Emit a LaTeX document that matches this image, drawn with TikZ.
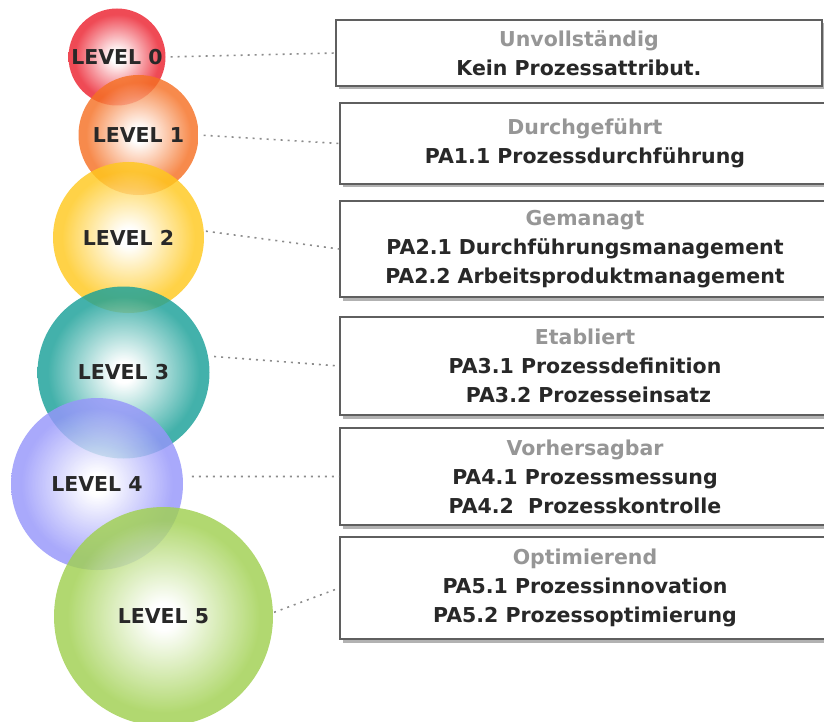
\documentclass[tikz,border=0pt]{standalone}
\usepackage{fontspec}
\setmainfont{DejaVu Sans}
\usetikzlibrary{shadows}
\definecolor{cred}{RGB}{236,34,48}
\definecolor{corange}{RGB}{245,112,36}
\definecolor{cyellow}{RGB}{255,200,30}
\definecolor{cteal}{RGB}{26,160,152}
\definecolor{clav}{RGB}{150,150,250}
\definecolor{cgreen}{RGB}{160,208,80}
\definecolor{titlegray}{RGB}{150,150,150}
\definecolor{txt}{RGB}{40,40,40}
\definecolor{boxline}{RGB}{95,95,95}
\definecolor{dotline}{RGB}{140,140,140}
\makeatletter
\pgfdeclareradialshading[tikz@radial@inner,tikz@radial@outer]{glow}{\pgforigin}{color(0bp)=(tikz@radial@inner); color(3bp)=(tikz@radial@inner); color(22bp)=(tikz@radial@outer); color(50bp)=(tikz@radial@outer)}
\makeatother
\tikzset{
  ball/.style n args={2}{circle, inner sep=0pt, minimum size=#1, fill opacity=0.82, text opacity=1,
    text=txt, font=\fontsize{20.5}{24}\selectfont\bfseries,
    inner color=white, outer color=#2, shading=glow},
  infobox/.style={rectangle, draw=boxline, line width=1.5pt, fill=white, align=center,
    text=txt, font=\fontsize{20.5}{29}\selectfont\bfseries,
    drop shadow={shadow xshift=3pt, shadow yshift=-3.5pt, fill=black!30, opacity=1}},
  leader/.style={draw=dotline, line width=1.6pt, dash pattern=on 2pt off 5pt}
}
\newcommand{\ttl}[1]{{\color{titlegray}#1}}
\begin{document}
\begin{tikzpicture}[x=1pt,y=-1pt]
\useasboundingbox (0,0) rectangle (824,722);
\clip (0,0) rectangle (824,722);
% circles
\node[ball={97pt}{cred}] (c0) at (117,57) {LEVEL 0};
\node[ball={120pt}{corange}] (c1) at (138.5,135) {LEVEL 1};
\node[ball={151pt}{cyellow}] (c2) at (128.5,237.5) {LEVEL 2};
\node[ball={172pt}{cteal}] (c3) at (123.5,372.5) {LEVEL 3};
\node[ball={172pt}{clav}] (c4) at (97,484) {LEVEL 4};
\node[ball={219pt}{cgreen}] (c5) at (163.5,616.5) {LEVEL 5};
% boxes
\node[infobox, minimum width=486pt, minimum height=66pt] (b0) at (579,53)
  {\ttl{Unvollständig}\\Kein Prozessattribut.};
\node[infobox, minimum width=490pt, minimum height=81pt] (b1) at (585,143.5)
  {\ttl{Durchgeführt}\\PA1.1 Prozessdurchführung};
\node[infobox, minimum width=490pt, minimum height=96pt] (b2) at (585,249)
  {\ttl{Gemanagt}\\PA2.1 Durchführungsmanagement\\PA2.2 Arbeitsproduktmanagement};
\node[infobox, minimum width=490pt, minimum height=98pt] (b3) at (585,366)
  {\ttl{Etabliert}\\PA3.1 Prozessdefinition\\\ PA3.2 Prozesseinsatz};
\node[infobox, minimum width=490pt, minimum height=97pt] (b4) at (585,476.5)
  {\ttl{Vorhersagbar}\\PA4.1 Prozessmessung\\PA4.2\ \ Prozesskontrolle};
\node[infobox, minimum width=490pt, minimum height=102pt] (b5) at (585,588)
  {\ttl{Optimierend}\\PA5.1 Prozessinnovation\\PA5.2 Prozessoptimierung};
% leaders
\draw[leader, shorten <=5pt] (c0.east) -- (b0.west);
\draw[leader, shorten <=5pt] (c1.east) -- (b1.west);
\draw[leader, shorten <=2pt] (c2.5) -- (b2.west);
\draw[leader, shorten <=6pt] (c3.11) -- (b3.west);
\draw[leader, shorten <=9pt] (c4.5) -- (b4.west);
\draw[leader, shorten <=1pt] (c5.2) -- (b5.west);
\end{tikzpicture}
\end{document}
